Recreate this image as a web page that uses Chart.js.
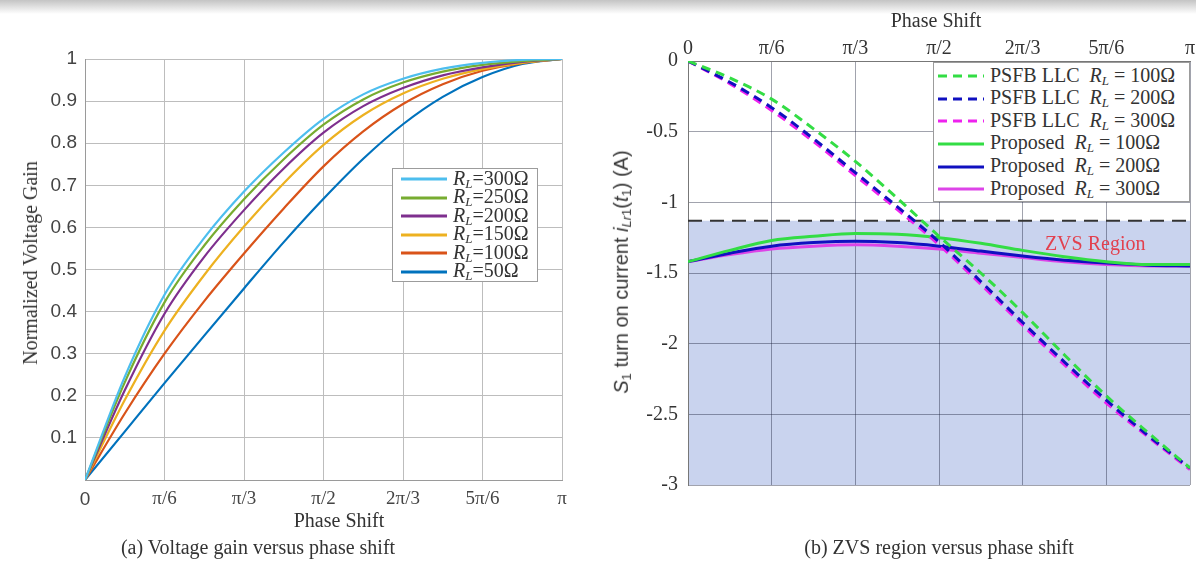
<!DOCTYPE html>
<html>
<head>
<meta charset="utf-8">
<script src="https://cdn.jsdelivr.net/npm/chart.js@4.4.1/dist/chart.umd.min.js"></script>
<style>
  body { margin: 0; background: #fff; }
  #page { position: relative; width: 1196px; height: 563px; overflow: hidden; font-family: "Liberation Serif", serif; color: #333; }
  .topband { position: absolute; left: 0; top: 0; width: 1196px; height: 14px; background: linear-gradient(#c4c4c4, #fff); }
  canvas { position: absolute; top: 0; }
  #gainChart { left: 0; }
  #zvsChart { left: 600px; }
  .txt { position: absolute; white-space: nowrap; font-size: 20px; line-height: 24px; transform: translate(-50%, -50%); }
  .rot { transform: translate(-50%, -50%) rotate(-90deg); }
  .legend { position: absolute; background: #fff; border: 1px solid #9c9c9c; box-sizing: border-box; font-size: 20px; color: #333; }
  .legend .row { display: flex; align-items: center; white-space: nowrap; }
  .legend svg { flex: none; margin-right: 6px; }
  sub { font-size: 0.65em; vertical-align: -0.25em; }
</style>
</head>
<body>
<div id="page">
  <div class="topband"></div>
  <canvas id="gainChart" width="600" height="563"></canvas>
  <canvas id="zvsChart" width="596" height="563"></canvas>

  <div class="txt rot" style="left:30px; top:263px;">Normalized Voltage Gain</div>
  <div class="txt" style="left:339px; top:520px;">Phase Shift</div>
  <div class="txt" style="left:258px; top:547px;">(a) Voltage gain versus phase shift</div>

  <div class="txt" style="left:936px; top:20px;">Phase Shift</div>
  <div class="txt rot" style="left:624px; top:272px; font-family:'Liberation Sans', sans-serif; font-size:20px;"><i>S</i><sub>1</sub> turn on current <i>i</i><sub><i>Lr</i>1</sub>(<i>t</i><sub>1</sub>) (A)</div>
  <div class="txt" style="left:939px; top:547px;">(b) ZVS region versus phase shift</div>

  <div id="gainLegend" class="legend" style="left:392px; top:168px; width:146px; padding:1px 0 0 8px;"></div>
  <div id="zvsLegend" class="legend" style="left:933px; top:62px; width:257px; height:140px; padding:2px 0 0 4px;"></div>
</div>

<script>
// phase shift in degrees (0 .. pi)
const phaseDeg = [0, 15, 30, 45, 60, 75, 90, 105, 120, 135, 150, 165, 180];
const phaseTickDeg = [0, 30, 60, 90, 120, 150, 180];
const phaseTickLabels = ["0", "π/6", "π/3", "π/2", "2π/3", "5π/6", "π"];

// (a) normalized voltage gain
const gainLoads = ["300", "250", "200", "150", "100", "50"];
const gain300 = [0, 0.245, 0.44, 0.575, 0.685, 0.778, 0.858, 0.916, 0.953, 0.977, 0.991, 0.998, 1];
const gain250 = [0, 0.232, 0.422, 0.557, 0.667, 0.762, 0.844, 0.904, 0.944, 0.97, 0.986, 0.995, 1];
const gain200 = [0, 0.213, 0.395, 0.53, 0.641, 0.74, 0.825, 0.888, 0.931, 0.961, 0.98, 0.993, 1];
const gain150 = [0, 0.19, 0.355, 0.487, 0.602, 0.705, 0.796, 0.867, 0.918, 0.953, 0.976, 0.991, 1];
const gain100 = [0, 0.158, 0.3, 0.425, 0.538, 0.645, 0.745, 0.828, 0.893, 0.94, 0.972, 0.99, 1];
const gain50 = [0, 0.115, 0.23, 0.343, 0.455, 0.565, 0.668, 0.763, 0.845, 0.91, 0.957, 0.988, 1];

// (b) S1 turn-on current
const zvsLimit = -1.13;
const psfb100 = [0, -0.12, -0.27, -0.48, -0.71, -0.97, -1.24, -1.5, -1.78, -2.08, -2.37, -2.63, -2.88];
const psfb200 = [0, -0.15, -0.33, -0.55, -0.79, -1.03, -1.28, -1.56, -1.85, -2.13, -2.4, -2.65, -2.88];
const psfb300 = [0, -0.16, -0.35, -0.57, -0.81, -1.05, -1.3, -1.58, -1.87, -2.15, -2.42, -2.66, -2.89];
const prop100 = [-1.42, -1.34, -1.27, -1.24, -1.22, -1.225, -1.25, -1.29, -1.34, -1.385, -1.42, -1.44, -1.44];
const prop200 = [-1.42, -1.36, -1.31, -1.285, -1.275, -1.285, -1.31, -1.345, -1.38, -1.41, -1.43, -1.445, -1.45];
const prop300 = [-1.42, -1.37, -1.33, -1.31, -1.3, -1.31, -1.33, -1.36, -1.39, -1.42, -1.44, -1.45, -1.45];
const zvsTextPos = [146, -1.3];

const SERIF = '"Liberation Serif", serif';
const SANS = '"Liberation Sans", sans-serif';
Chart.defaults.font.family = SERIF;

const toPoints = (vals) => phaseDeg.map((x, i) => ({ x, y: vals[i] }));
const rl = () => `<i>R</i><sub><i>L</i></sub>`;

const gainLines = [
    { load: gainLoads[0], values: gain300, color: "#4DBEEE" },
    { load: gainLoads[1], values: gain250, color: "#77AC30" },
    { load: gainLoads[2], values: gain200, color: "#7E2F8E" },
    { load: gainLoads[3], values: gain150, color: "#EDB120" },
    { load: gainLoads[4], values: gain100, color: "#D95319" },
    { load: gainLoads[5], values: gain50, color: "#0072BD" },
];

const zvsLines = [
    { name: "PSFB LLC", load: "100", values: psfb100, color: "#33dd44", dash: [9, 6] },
    { name: "PSFB LLC", load: "200", values: psfb200, color: "#1010c0", dash: [9, 6] },
    { name: "PSFB LLC", load: "300", values: psfb300, color: "#ee22ee", dash: [9, 6] },
    { name: "Proposed", load: "100", values: prop100, color: "#33dd44", dash: [] },
    { name: "Proposed", load: "200", values: prop200, color: "#1010c0", dash: [] },
    { name: "Proposed", load: "300", values: prop300, color: "#dd44e8", dash: [] },
];

const phaseAxis = (extra) => ({
    type: "linear",
    min: 0,
    max: 180,
    afterBuildTicks: (s) => { s.ticks = phaseTickDeg.map((value) => ({ value })); },
    ...extra,
});

const tickLabel = (v) => phaseTickLabels[phaseTickDeg.indexOf(v)];

// left chart
new Chart(document.getElementById("gainChart"), {
    type: "line",
    data: {
        datasets: gainLines.map((s) => ({
            label: s.load,
            data: toPoints(s.values),
            borderColor: s.color,
            borderWidth: 2.2,
            pointRadius: 0,
            cubicInterpolationMode: "monotone",
        })),
    },
    options: {
        responsive: false,
        animation: false,
        layout: { padding: { left: 0, top: 59, right: 38, bottom: 30 } },
        plugins: { legend: { display: false }, tooltip: { enabled: false } },
        scales: {
            x: phaseAxis({
                afterFit: (s) => { s.height = 53; },
                grid: { color: "#bdbdbd", drawTicks: false },
                border: { color: "#9a9a9a" },
                ticks: {
                    padding: 8,
                    color: "#444",
                    maxRotation: 0,
                    autoSkip: false,
                    font: (ctx) => ({ family: ctx.tick && ctx.tick.value === 0 ? SANS : SERIF, size: 19 }),
                    callback: tickLabel,
                },
            }),
            y: {
                min: 0,
                max: 1,
                afterFit: (s) => { s.width = 85; },
                grid: { color: "#bdbdbd", drawTicks: false },
                border: { color: "#9a9a9a" },
                ticks: {
                    stepSize: 0.1,
                    padding: 8,
                    color: "#444",
                    font: { family: SANS, size: 19 },
                    callback: (v) => (v === 0 ? "" : String(Number(v.toFixed(1)))),
                },
            },
        },
    },
});

// ZVS region label
const zvsLabel = {
    id: "zvsLabel",
    afterDatasetsDraw(chart) {
        const { ctx, scales } = chart;
        ctx.save();
        ctx.font = "20px " + SERIF;
        ctx.fillStyle = "#e2404e";
        ctx.textAlign = "center";
        ctx.textBaseline = "middle";
        ctx.fillText("ZVS Region", scales.x.getPixelForValue(zvsTextPos[0]), scales.y.getPixelForValue(zvsTextPos[1]));
        ctx.restore();
    },
};

// right chart; shaded region is filled before the grid so grid lines show on top
const gridDark = "rgba(20, 25, 50, 0.4)";
new Chart(document.getElementById("zvsChart"), {
    type: "line",
    data: {
        datasets: [
            {
                label: "ZVS limit",
                data: [{ x: 0, y: zvsLimit }, { x: 180, y: zvsLimit }],
                borderColor: "#333",
                borderWidth: 2,
                borderDash: [14, 8],
                pointRadius: 0,
                fill: "start",
                backgroundColor: "#c9d3ee",
                order: 10,
            },
            ...zvsLines.map((s) => ({
                label: s.name + " " + s.load,
                data: toPoints(s.values),
                borderColor: s.color,
                borderWidth: 3,
                borderDash: s.dash,
                pointRadius: 0,
                cubicInterpolationMode: "monotone",
                order: s.dash.length ? 1 : 2,
            })),
        ],
    },
    options: {
        responsive: false,
        animation: false,
        layout: { padding: { left: 0, top: 0, right: 6, bottom: 78 } },
        plugins: {
            legend: { display: false },
            tooltip: { enabled: false },
            filler: { drawTime: "beforeDraw" },
        },
        scales: {
            x: phaseAxis({
                position: "top",
                afterFit: (s) => { s.height = 61; },
                grid: { color: gridDark, drawTicks: false },
                border: { color: "#777" },
                ticks: {
                    padding: 0,
                    color: "#333",
                    maxRotation: 0,
                    autoSkip: false,
                    font: { size: 20 },
                    callback: tickLabel,
                },
            }),
            y: {
                min: -3,
                max: 0,
                afterFit: (s) => { s.width = 88; },
                grid: { color: gridDark, drawTicks: false },
                border: { color: "#777" },
                ticks: {
                    stepSize: 0.5,
                    padding: 10,
                    color: "#333",
                    font: { size: 20 },
                    callback: (v) => String(Number(v.toFixed(1))),
                },
            },
        },
    },
    plugins: [zvsLabel],
});

// legends
function swatch(color, dash) {
    const da = dash.length ? `stroke-dasharray="${dash.join(" ")}"` : "";
    return `<svg width="46" height="10"><line x1="0" y1="5" x2="46" y2="5" stroke="${color}" stroke-width="3" ${da}/></svg>`;
}

const gainLegend = document.getElementById("gainLegend");
gainLines.forEach((s) => {
    const row = document.createElement("div");
    row.className = "row";
    row.style.height = "18.5px";
    row.innerHTML = swatch(s.color, []) + `<span>${rl()}=${s.load}Ω</span>`;
    gainLegend.appendChild(row);
});

const zvsLegend = document.getElementById("zvsLegend");
zvsLines.forEach((s) => {
    const row = document.createElement("div");
    row.className = "row";
    row.style.height = "22.6px";
    row.innerHTML = swatch(s.color, s.dash) + `<span>${s.name}&nbsp; ${rl()} = ${s.load}Ω</span>`;
    zvsLegend.appendChild(row);
});
</script>
</body>
</html>
